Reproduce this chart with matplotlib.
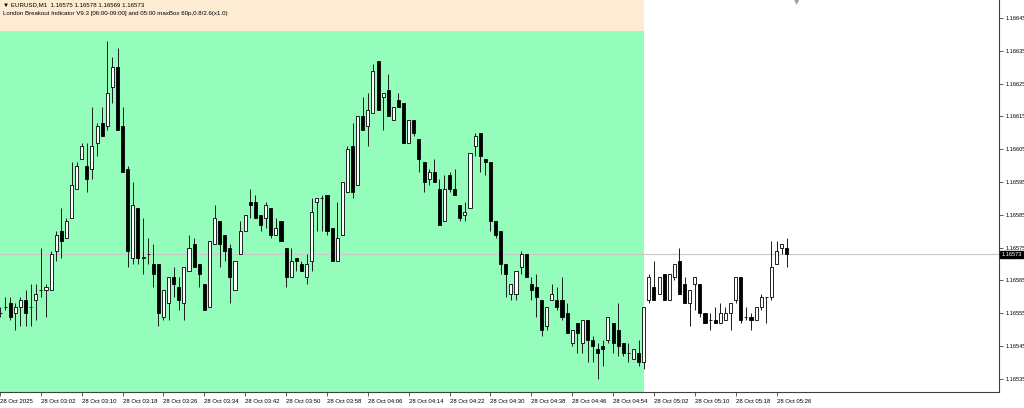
import numpy as np
import pandas as pd
import matplotlib
matplotlib.use("Agg")
import matplotlib.pyplot as plt
from matplotlib.patches import Rectangle
from matplotlib.transforms import blended_transform_factory
from matplotlib import font_manager

# ── Data: EURUSD M1, 28 Oct 2025 02:54 .. 05:28, prices in 1e-5 units ──────
start_time = "2025-10-28 02:54"

opens = [116555, 116557, 116558, 116555, 116557, 116559, 116557, 116559, 116562, 116562,
         116562, 116574, 116580, 116578, 116584, 116593, 116602, 116600, 116599, 116607,
         116613, 116612, 116624, 116630, 116612, 116599, 116572, 116587, 116572, 116573,
         116570, 116570, 116554, 116558, 116566, 116563, 116558, 116568, 116576, 116570,
         116564, 116557, 116576, 116583, 116579, 116575, 116562, 116573, 116580, 116589,
         116589, 116585, 116584, 116587, 116579, 116583, 116575, 116566, 116572, 116570,
         116566, 116571, 116589, 116590, 116591, 116581, 116571, 116579, 116592, 116606,
         116594, 116615, 116612, 116616, 116632, 116621, 116623, 116614, 116620, 116619,
         116607, 116614, 116608, 116601, 116596, 116598, 116593, 116583, 116597, 116593,
         116588, 116585, 116587, 116606, 116610, 116602, 116601, 116583, 116580, 116570,
         116561, 116561, 116569, 116573, 116564, 116563, 116559, 116551, 116559, 116559,
         116559, 116555, 116546, 116552, 116546, 116553, 116547, 116544, 116545, 116547,
         116552, 116550, 116546, 116543, 116541, 116543, 116540, 116559, 116563, 116561,
         116567, 116559, 116566, 116571, 116564, 116558, 116564, 116564, 116555, 116553,
         116553, 116552, 116553, 116555, 116559, 116566, 116554, 116554, 116553, 116557,
         116560, 116560, 116570, 116575, 116575]
highs = [116557, 116560, 116560, 116558, 116560, 116562, 116564, 116564, 116575, 116564,
         116574, 116580, 116587, 116584, 116601, 116601, 116607, 116607, 116618, 116613,
         116618, 116638, 116633, 116636, 116618, 116600, 116595, 116587, 116584, 116578,
         116576, 116570, 116562, 116566, 116569, 116566, 116569, 116579, 116578, 116570,
         116564, 116577, 116588, 116583, 116579, 116576, 116571, 116583, 116585, 116593,
         116591, 116585, 116589, 116587, 116584, 116583, 116575, 116575, 116572, 116571,
         116573, 116590, 116590, 116591, 116591, 116581, 116589, 116595, 116606, 116613,
         116615, 116621, 116622, 116631, 116632, 116622, 116628, 116618, 116622, 116619,
         116614, 116614, 116608, 116601, 116599, 116602, 116596, 116597, 116598, 116599,
         116588, 116589, 116604, 116610, 116610, 116602, 116601, 116583, 116580, 116570,
         116564, 116568, 116574, 116573, 116566, 116567, 116559, 116557, 116564, 116563,
         116566, 116558, 116550, 116552, 116553, 116553, 116548, 116546, 116547, 116554,
         116552, 116558, 116546, 116546, 116544, 116547, 116557, 116567, 116571, 116566,
         116567, 116567, 116570, 116575, 116566, 116562, 116566, 116564, 116555, 116555,
         116557, 116558, 116557, 116558, 116566, 116566, 116557, 116555, 116557, 116561,
         116560, 116577, 116577, 116576, 116578]
lows = [116554, 116556, 116553, 116550, 116551, 116551, 116551, 116553, 116560, 116554,
        116562, 116571, 116572, 116578, 116584, 116593, 116602, 116592, 116596, 116603,
        116609, 116611, 116619, 116611, 116598, 116569, 116570, 116570, 116567, 116570,
        116563, 116551, 116553, 116553, 116560, 116556, 116553, 116568, 116569, 116563,
        116556, 116557, 116576, 116569, 116571, 116558, 116562, 116573, 116580, 116584,
        116584, 116580, 116581, 116578, 116579, 116577, 116563, 116566, 116568, 116568,
        116564, 116568, 116580, 116580, 116579, 116571, 116571, 116579, 116592, 116590,
        116594, 116611, 116606, 116616, 116617, 116611, 116615, 116614, 116618, 116607,
        116607, 116609, 116598, 116592, 116594, 116595, 116582, 116583, 116592, 116591,
        116583, 116583, 116587, 116603, 116598, 116597, 116580, 116578, 116567, 116560,
        116559, 116559, 116567, 116566, 116559, 116554, 116548, 116550, 116559, 116556,
        116553, 116549, 116545, 116543, 116543, 116540, 116540, 116535, 116539, 116546,
        116543, 116542, 116542, 116540, 116541, 116539, 116538, 116558, 116559, 116561,
        116559, 116559, 116565, 116561, 116558, 116551, 116556, 116554, 116552, 116550,
        116552, 116552, 116553, 116550, 116558, 116552, 116553, 116550, 116553, 116556,
        116552, 116559, 116570, 116573, 116569]
closes = [116555, 116557, 116554, 116557, 116559, 116555, 116557, 116561, 116562, 116563,
          116573, 116579, 116577, 116583, 116594, 116600, 116606, 116596, 116606, 116612,
          116609, 116622, 116630, 116611, 116598, 116574, 116588, 116572, 116572, 116573,
          116567, 116555, 116562, 116566, 116564, 116559, 116569, 116575, 116569, 116567,
          116556, 116577, 116584, 116576, 116574, 116566, 116571, 116580, 116585, 116588,
          116584, 116582, 116588, 116579, 116581, 116577, 116566, 116571, 116571, 116568,
          116570, 116586, 116590, 116590, 116580, 116571, 116578, 116595, 116605, 116592,
          116615, 116611, 116617, 116629, 116617, 116622, 116615, 116618, 116618, 116607,
          116614, 116610, 116602, 116595, 116598, 116595, 116582, 116593, 116593, 116591,
          116584, 116586, 116604, 116609, 116603, 116601, 116583, 116579, 116570, 116567,
          116564, 116568, 116573, 116566, 116562, 116560, 116550, 116557, 116561, 116557,
          116554, 116549, 116550, 116549, 116553, 116547, 116545, 116543, 116544, 116554,
          116546, 116545, 116543, 116543, 116544, 116540, 116557, 116566, 116559, 116566,
          116559, 116567, 116570, 116561, 116558, 116562, 116566, 116555, 116552, 116553,
          116552, 116555, 116555, 116558, 116566, 116553, 116554, 116553, 116557, 116560,
          116560, 116569, 116574, 116576, 116573]

box_end_time = "2025-10-28 05:00"   # London breakout box ends here
box_high = 1.16641
current_price = 1.16573
price_ticks = [1.16535, 1.16545, 1.16555, 1.16565, 1.16575, 1.16585,
               1.16595, 1.16605, 1.16615, 1.16625, 1.16635, 1.16645]

header_1 = "\u25BC EURUSD,M1  1.16575 1.16578 1.16569 1.16573"
header_2 = "London Breakout Indicator V9.3 [06:00-09:00] and 05:00 maxBox 60p,0.8/2.6(x1.0)"

# ── Prep ─────────────────────────────────────────────────────────────────────
o = np.array(opens) / 1e5
h = np.array(highs) / 1e5
l = np.array(lows) / 1e5
c = np.array(closes) / 1e5
times = pd.date_range(start_time, periods=len(o), freq="min")
x = np.arange(len(o))
box_end = int((pd.Timestamp(box_end_time) - times[0]) / pd.Timedelta("1min"))

# narrow font if it is there (the MT4 screenshot text is squeezed)
names = {f.name for f in font_manager.fontManager.ttflist}
narrow = "Liberation Sans Narrow" if "Liberation Sans Narrow" in names else "Liberation Sans"
scale = 1.0 if narrow == "Liberation Sans Narrow" else 0.85
fs_x = 5.1 * scale
fs_y = 4.8 * scale
fs_head = 5.2 * scale
plt.rcParams["font.family"] = [narrow, "DejaVu Sans"]

# ── Figure ───────────────────────────────────────────────────────────────────
fig = plt.figure(figsize=(10.24, 4.08), dpi=100)
fig.patch.set_facecolor("white")
ax = fig.add_axes([0, 16 / 408, 999.3 / 1024, 392 / 408])

y_lo, y_hi = 1.16531, 1.166505
x_lo, x_hi = 0.18, 195.6
ax.set_xlim(x_lo, x_hi)
ax.set_ylim(y_lo, y_hi)

# breakout box (green) and area above it (beige)
ax.add_patch(Rectangle((x_lo - 1, y_lo - 0.001), box_end - x_lo + 1, box_high - y_lo + 0.001,
                       facecolor="#94fdbb", edgecolor="none", zorder=0))
ax.add_patch(Rectangle((x_lo - 1, box_high), box_end - x_lo + 1, y_hi - box_high + 0.001,
                       facecolor="#fdebd2", edgecolor="none", zorder=0))

# current price line
ax.axhline(current_price, color="#c8c8c8", lw=0.8, zorder=1)

# candles
up = c >= o
ax.vlines(x, l, h, color="#1a1a1a", lw=0.7, zorder=2)
body_lo = np.minimum(o, c)
body_h = np.maximum(np.abs(c - o), 1e-7)
ax.bar(x[up], body_h[up], bottom=body_lo[up], width=0.6,
       color="white", edgecolor="black", linewidth=0.6, zorder=3)
ax.bar(x[~up], body_h[~up], bottom=body_lo[~up], width=0.6,
       color="black", edgecolor="black", linewidth=0.6, zorder=3)

# spines
for s in ("top", "left"):
    ax.spines[s].set_visible(False)
for s in ("right", "bottom"):
    ax.spines[s].set_color("#404040")
    ax.spines[s].set_linewidth(0.8)

# y axis on right
ax.yaxis.tick_right()
ax.set_yticks(price_ticks)
ax.set_yticklabels([f"{p:.5f}" for p in price_ticks])
ax.tick_params(axis="y", direction="out", length=3, width=0.6, pad=1.2,
               labelsize=fs_y, colors="#404040", labelcolor="black")

# x axis ticks every 8 minutes, first label shows the date
tick_idx = [0] + list(range(8, len(o), 8))
tick_lab = [times[0].strftime("%d %b %Y")] + [times[i].strftime("%d %b %H:%M") for i in tick_idx[1:]]
ax.set_xticks(tick_idx)
ax.set_xticklabels(tick_lab)
ax.tick_params(axis="x", direction="out", length=3, width=0.6, pad=2,
               labelsize=fs_x, colors="#404040", labelcolor="black")
for lab in ax.get_xticklabels():
    lab.set_ha("left")

# current price tag on the axis
tr = blended_transform_factory(ax.transAxes, ax.transData)
ax.text(1.002, current_price, f"{current_price:.5f}", transform=tr, fontsize=fs_y,
        color="white", va="center", ha="left",
        bbox=dict(boxstyle="square,pad=0.2", facecolor="black", edgecolor="black"),
        clip_on=False, zorder=5)

# shift marker at top
fig.text(797 / 1024, 1 - 2 / 408, "\u25BC", fontsize=5, color="#a0a0a0",
         ha="center", va="center", family="DejaVu Sans")

# header texts
fig.text(3 / 1024, 1 - 5 / 408, header_1, fontsize=fs_head, ha="left", va="center",
         family=[narrow, "DejaVu Sans"])
fig.text(3 / 1024, 1 - 14 / 408, header_2, fontsize=fs_head, ha="left", va="center")

fig.savefig("out.png", dpi=100, facecolor="white")
